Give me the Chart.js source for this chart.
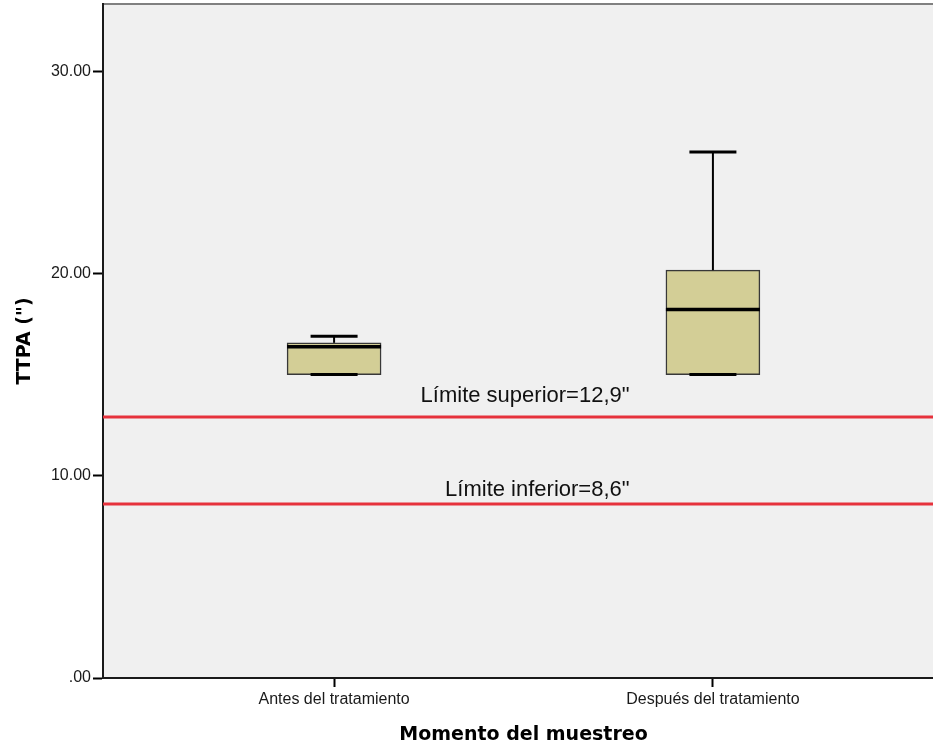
<!DOCTYPE html>
<html>
<head>
<meta charset="utf-8">
<script src="https://cdn.jsdelivr.net/npm/chart.js@4/dist/chart.umd.min.js"></script>
<style>
  html, body { margin: 0; padding: 0; overflow: hidden; background: #ffffff; }
  #wrap { width: 945px; height: 746px; }
</style>
</head>
<body>
<div id="wrap"><canvas id="chart" width="945" height="746"></canvas></div>
<script>
// TTPA (seconds) per sampling moment: five-number summaries
const categories   = ['Antes del tratamiento', 'Después del tratamiento'];
const whiskerLow   = [15.0, 15.0];
const quartile1    = [15.0, 15.0];
const medians      = [16.37, 18.22];
const quartile3    = [16.57, 20.16];
const whiskerHigh  = [16.9, 26.0];

// Reference limits
const limitValues  = [12.9, 8.6];
const limitLabels  = ['Límite superior=12,9"', 'Límite inferior=8,6"'];

// Value axis
const yTicks = [0, 10, 20, 30];
const yMax = 33.32;

// Horizontal extent around the two category positions (0 and 1)
const X_MIN = -0.61, X_MAX = 1.61;

const BOX_FILL = '#d3ce96';
const LIMIT_RED = '#e6323c';

const plotFrame = {
  id: 'plotFrame',
  beforeDraw(chart) {
    const { ctx, chartArea: a } = chart;
    ctx.save();
    ctx.fillStyle = '#f0f0f0';
    ctx.fillRect(a.left, a.top, a.right - a.left, a.bottom - a.top);
    ctx.strokeStyle = '#808080';
    ctx.lineWidth = 2;
    ctx.beginPath();
    ctx.moveTo(a.left, a.top);
    ctx.lineTo(a.right, a.top);
    ctx.stroke();
    ctx.restore();
  }
};

const boxWhiskers = {
  id: 'boxWhiskers',
  afterDatasetsDraw(chart) {
    const { ctx, scales: { y } } = chart;
    const meta = chart.getDatasetMeta(0);
    const seg = (x1, y1, x2, y2) => {
      ctx.beginPath(); ctx.moveTo(x1, y1); ctx.lineTo(x2, y2); ctx.stroke();
    };
    ctx.save();
    ctx.strokeStyle = '#000000';
    ctx.lineCap = 'butt';
    categories.forEach((_, i) => {
      const { x: cx, width } = meta.data[i].getProps(['x', 'width'], true);
      const half = width / 2;
      const capHalf = width / 4;
      const yHi = y.getPixelForValue(whiskerHigh[i]);
      const yQ3 = y.getPixelForValue(quartile3[i]);
      const yQ1 = y.getPixelForValue(quartile1[i]);
      const yLo = y.getPixelForValue(whiskerLow[i]);
      const yMed = y.getPixelForValue(medians[i]);
      ctx.lineWidth = 2;
      seg(cx, yQ3, cx, yHi);
      seg(cx, yQ1, cx, yLo);
      ctx.lineWidth = 3;
      seg(cx - capHalf, yHi, cx + capHalf, yHi);
      seg(cx - capHalf, yLo, cx + capHalf, yLo);
      ctx.lineWidth = 3.5;
      seg(cx - half, yMed, cx + half, yMed);
    });
    ctx.restore();
  }
};

// Right edge of the limit captions and lift of each baseline above its line
const captionAnchor = 0.78;
const captionLift = [15, 8];

const limitCaptions = {
  id: 'limitCaptions',
  afterDatasetsDraw(chart) {
    const { ctx, scales: { x, y } } = chart;
    ctx.save();
    ctx.font = '22px "Liberation Sans", Arial, sans-serif';
    ctx.fillStyle = '#111111';
    ctx.textAlign = 'right';
    ctx.textBaseline = 'alphabetic';
    limitLabels.forEach((txt, i) => {
      ctx.fillText(txt, x.getPixelForValue(captionAnchor), y.getPixelForValue(limitValues[i]) - captionLift[i]);
    });
    ctx.restore();
  }
};

const limitDatasets = limitValues.map(v => ({
  type: 'line',
  data: [{ x: X_MIN, y: v }, { x: X_MAX, y: v }],
  borderColor: LIMIT_RED,
  borderWidth: 3,
  pointRadius: 0,
  fill: false,
  order: 2
}));

new Chart(document.getElementById('chart'), {
  type: 'bar',
  data: {
    datasets: [
      {
        type: 'bar',
        data: categories.map((c, i) => ({ x: i, y: [quartile1[i], quartile3[i]] })),
        backgroundColor: BOX_FILL,
        borderColor: '#383838',
        borderWidth: 1.5,
        borderSkipped: false,
        barThickness: 94,
        order: 1
      },
      ...limitDatasets
    ]
  },
  options: {
    responsive: false,
    animation: false,
    devicePixelRatio: 1,
    events: [],
    layout: { padding: { top: 4, right: 1, left: 0, bottom: 0 } },
    plugins: { legend: { display: false }, tooltip: { enabled: false } },
    scales: {
      x: {
        type: 'linear',
        min: X_MIN,
        max: X_MAX,
        offset: false,
        afterBuildTicks: s => { s.ticks = categories.map((c, i) => ({ value: i })); },
        afterFit: s => { s.height = 68; s.paddingLeft = 0; s.paddingRight = 0; },
        ticks: {
          callback: v => categories[v] ?? '',
          color: '#1a1a1a',
          font: { family: '"Liberation Sans", Arial, sans-serif', size: 16 },
          padding: 3,
          maxRotation: 0,
          autoSkip: false
        },
        grid: { offset: false, drawOnChartArea: false, drawTicks: true, tickLength: 9, tickColor: '#000000', tickWidth: 2 },
        border: { display: true, color: '#1a1a1a', width: 2 },
        title: {
          display: true,
          text: 'Momento del muestreo',
          color: '#000000',
          font: { family: '"DejaVu Sans", Verdana, sans-serif', size: 19, weight: 'bold', lineHeight: 1.2 },
          padding: { top: 0, bottom: 0 }
        }
      },
      y: {
        type: 'linear',
        min: 0,
        max: yMax,
        afterBuildTicks: s => { s.ticks = yTicks.map(v => ({ value: v })); },
        afterFit: s => { s.width = 103; s.paddingTop = 0; s.paddingBottom = 0; },
        ticks: {
          callback: v => v === 0 ? '.00' : v.toFixed(2),
          color: '#1a1a1a',
          font: { family: '"Liberation Sans", Arial, sans-serif', size: 16 },
          padding: 2
        },
        grid: { drawOnChartArea: false, drawTicks: true, tickLength: 10, tickColor: '#000000', tickWidth: 2 },
        border: { display: true, color: '#1a1a1a', width: 2 },
        title: {
          display: true,
          text: 'TTPA (")',
          color: '#000000',
          font: { family: '"DejaVu Sans", Verdana, sans-serif', size: 19, weight: 'bold', lineHeight: 1.2 },
          padding: { top: 14, bottom: 0 }
        }
      }
    }
  },
  plugins: [plotFrame, boxWhiskers, limitCaptions]
});
</script>
</body>
</html>
